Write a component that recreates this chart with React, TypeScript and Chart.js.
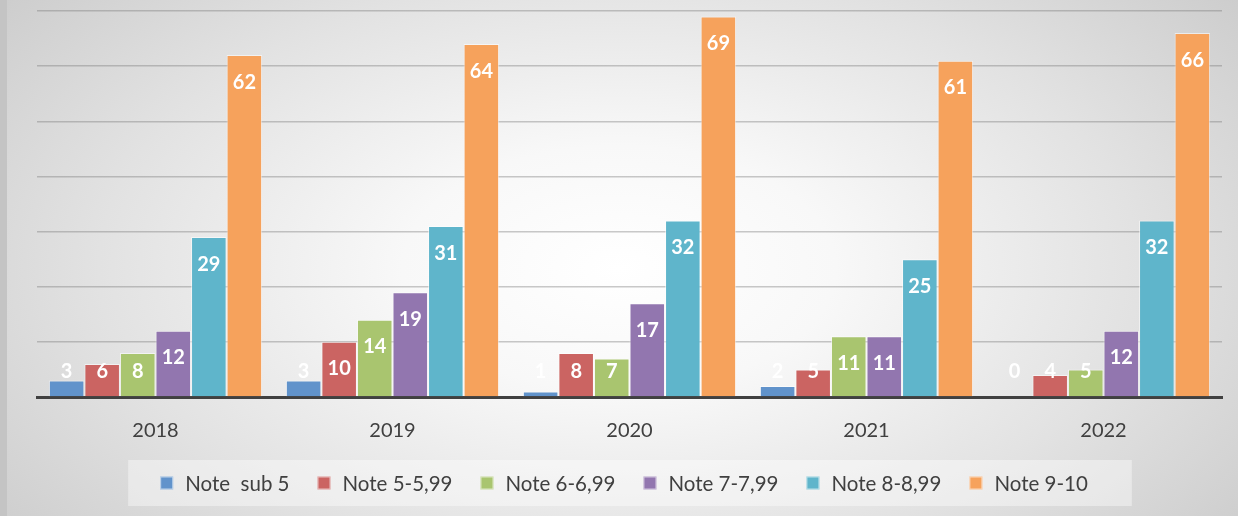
import React, { useEffect, useRef } from "react";
import { Chart, registerables } from "chart.js";

Chart.register(...registerables);

const categories = ["2018", "2019", "2020", "2021", "2022"];
const seriesNames = ["Note  sub 5", "Note 5-5,99", "Note 6-6,99", "Note 7-7,99", "Note 8-8,99", "Note 9-10"];
const sub5 = [3, 3, 1, 2, 0];
const note5 = [6, 10, 8, 5, 4];
const note6 = [8, 14, 7, 11, 5];
const note7 = [12, 19, 17, 11, 12];
const note8 = [29, 31, 32, 25, 32];
const note9 = [62, 64, 69, 61, 66];
const seriesValues = [sub5, note5, note6, note7, note8, note9];
const seriesColors = ["#6193cb", "#cb6462", "#a9c56f", "#9276af", "#5fb5cb", "#f6a25c"];

const FONT = "Lato, 'Open Sans', sans-serif";

const labelPlugin = {
  id: "valueLabels",
  afterDatasetsDraw(chart: any) {
    const ctx = chart.ctx;
    ctx.save();
    ctx.font = `bold 20px ${FONT}`;
    ctx.fillStyle = "#ffffff";
    ctx.textAlign = "center";
    ctx.textBaseline = "middle";
    chart.data.datasets.forEach((ds: any, i: number) => {
      const meta = chart.getDatasetMeta(i);
      meta.data.forEach((el: any, j: number) => {
        const y = Math.min(el.y + 27, el.base - 25);
        ctx.fillText(String(ds.data[j]), el.x, y);
      });
    });
    ctx.restore();
  },
};

const legendPlugin = {
  id: "customLegend",
  afterDraw(chart: any) {
    const ctx = chart.ctx;
    ctx.save();
    ctx.font = `20.5px ${FONT}`;
    const box = 13;
    const gapText = 12;
    const gapItem = 28;
    const widths = seriesNames.map((n) => ctx.measureText(n).width);
    const total = widths.reduce((a, w) => a + box + gapText + w, 0) + gapItem * (seriesNames.length - 1);
    const cx = 624;
    let x = cx - total / 2;
    const yc = 483;
    ctx.fillStyle = "rgba(255,255,255,0.4)";
    ctx.fillRect(x - 32, 460, total + 76, 46);
    ctx.textBaseline = "middle";
    ctx.textAlign = "left";
    seriesNames.forEach((n, i) => {
      ctx.fillStyle = seriesColors[i];
      ctx.fillRect(x, yc - 6.5, box, box);
      ctx.strokeStyle = "rgba(255,255,255,0.6)";
      ctx.lineWidth = 1;
      ctx.strokeRect(x + 0.5, yc - 6, box - 1, box - 1);
      ctx.fillStyle = "#404040";
      ctx.fillText(n, x + box + gapText, yc + 1);
      x += box + gapText + widths[i] + gapItem;
    });
    ctx.restore();
  },
};

export default function App() {
  const ref = useRef<HTMLCanvasElement>(null);
  useEffect(() => {
    if (!ref.current) return;
    const chart = new Chart(ref.current, {
      type: "bar",
      data: {
        labels: categories,
        datasets: seriesNames.map((name, i) => ({
          label: name,
          data: seriesValues[i],
          backgroundColor: seriesColors[i],
          borderColor: "rgba(255,255,255,0.55)",
          borderWidth: 1,
          categoryPercentage: 0.9,
          barPercentage: 1.0,
        })),
      },
      options: {
        responsive: false,
        animation: false,
        layout: { padding: { left: 37, right: 16, top: 11, bottom: 51 } },
        plugins: { legend: { display: false }, tooltip: { enabled: false } },
        scales: {
          x: {
            grid: { display: false, drawTicks: false },
            border: { display: true, color: "#404040", width: 3 },
            ticks: { color: "#404040", font: { family: FONT, size: 20 }, padding: 22 },
          },
          y: {
            min: 0,
            max: 70,
            ticks: { display: false, stepSize: 10 },
            grid: { color: "rgba(120,120,120,0.4)", lineWidth: 1.5, drawTicks: false },
            border: { display: false },
          },
        },
      },
      plugins: [labelPlugin, legendPlugin],
    });
    return () => chart.destroy();
  }, []);
  return (
    <div
      style={{
        position: "fixed",
        left: 0,
        top: 0,
        width: 1238,
        height: 516,
        background:
          "radial-gradient(ellipse 70% 95% at 50% 52%, #ffffff 0%, #f8f8f8 25%, #e2e2e2 60%, #c6c6c6 100%)",
      }}
    >
      <div style={{ position: "absolute", left: 0, top: 0, width: 7, height: 516, background: "#c4c4c4" }} />
      <canvas ref={ref} width={1238} height={516} style={{ position: "absolute", left: 0, top: 0 }} />
    </div>
  );
}
